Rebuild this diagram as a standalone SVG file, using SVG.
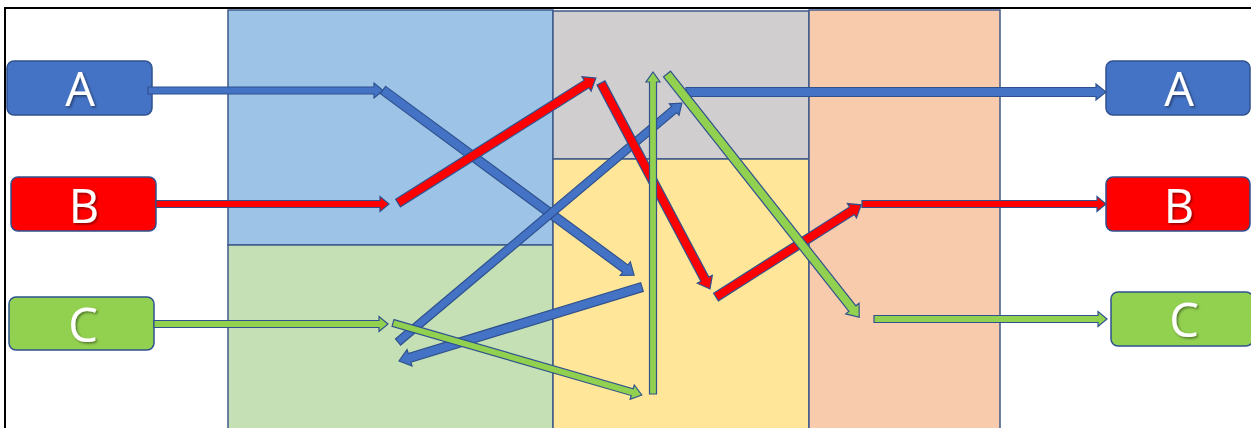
<svg xmlns="http://www.w3.org/2000/svg" width="1251" height="428" viewBox="0 0 1251 428">
<defs>
<style>
.zone{stroke:#3F5A8A;stroke-width:1.5}
.node{stroke:#2F528F;stroke-width:1.5}
.lbl{font-family:"Open Sans","Liberation Sans",sans-serif;font-size:47px;fill:#fff;text-anchor:middle;filter:url(#sh)}
.arr{stroke:#2F528F;stroke-width:1.2;stroke-linejoin:miter}
.b{fill:#4472C4}.r{fill:#FF0000}.g{fill:#92D050}
</style>
<filter id="sh" x="-20%" y="-20%" width="140%" height="140%">
<feDropShadow dx="1.5" dy="1.5" stdDeviation="0.8" flood-color="#000" flood-opacity="0.45"/>
</filter>
</defs>
<rect x="0" y="0" width="1251" height="428" fill="#fff"/>
<rect x="5" y="8" width="1260" height="440" fill="none" stroke="#000" stroke-width="2"/>
<g id="zones">
<rect class="zone" x="228" y="10" width="325" height="235" fill="#9DC3E6"/>
<rect class="zone" x="228" y="245" width="325" height="190" fill="#C5E0B4"/>
<rect class="zone" x="553" y="11" width="256" height="148" fill="#D0CECE"/>
<rect class="zone" x="553" y="159" width="256" height="276" fill="#FFE699"/>
<rect class="zone" x="809" y="10" width="191" height="425" fill="#F8CBAD" stroke="#6E6EA8"/>
</g>
<g id="node-A-in"><rect class="node b" x="7" y="61" width="145" height="54" rx="7"/><text class="lbl" x="80" y="106">A</text></g>
<g id="node-B-in"><rect class="node r" x="11" y="177" width="145" height="54" rx="7"/><text class="lbl" x="84" y="223">B</text></g>
<g id="node-C-in"><rect class="node g" x="9" y="297" width="145" height="53" rx="7"/><text class="lbl" x="83" y="342">C</text></g>
<g id="node-A-out"><rect class="node b" x="1106" y="61" width="144" height="54" rx="7"/><text class="lbl" x="1179" y="106">A</text></g>
<g id="node-B-out"><rect class="node r" x="1106" y="177" width="144" height="54" rx="7"/><text class="lbl" x="1179" y="223">B</text></g>
<g id="node-C-out"><rect class="node g" x="1111" y="292" width="142" height="54" rx="7"/><text class="lbl" x="1184" y="337">C</text></g>
<g id="connectors">
<!-- blue -->
<polygon class="arr b" transform="translate(148,90.5)" points="0,-3.5 226,-3.5 226,-7.5 235,0 226,7.5 226,3.5 0,3.5"/>
<polygon class="arr b" transform="translate(383,90) rotate(36.4)" points="0,-4.5 301,-4.5 301,-8.5 312,0 301,8.5 301,4.5 0,4.5"/>
<polygon class="arr b" transform="translate(642,287) rotate(163.06)" points="0,-4.5 243,-4.5 243,-8.5 254,0 243,8.5 243,4.5 0,4.5"/>
<polygon class="arr b" transform="translate(398,342) rotate(-40.08)" points="0,-4 361,-4 361,-7.5 371,0 361,7.5 361,4 0,4"/>
<polygon class="arr b" transform="translate(686,92)" points="0,-4.5 410,-4.5 410,-8 420,0 410,8 410,4.5 0,4.5"/>
<!-- red -->
<polygon class="arr r" transform="translate(156,204)" points="0,-3.5 224,-3.5 224,-7.5 233,0 224,7.5 224,3.5 0,3.5"/>
<polygon class="arr r" transform="translate(398,203) rotate(-32.27)" points="0,-4.5 223,-4.5 223,-8.5 234,0 223,8.5 223,4.5 0,4.5"/>
<polygon class="arr r" transform="translate(601,83) rotate(62.11)" points="0,-4.5 222,-4.5 222,-8.5 233,0 222,8.5 222,4.5 0,4.5"/>
<polygon class="arr r" transform="translate(716,297) rotate(-32.4)" points="0,-4.5 161,-4.5 161,-8.5 172,0 161,8.5 161,4.5 0,4.5"/>
<polygon class="arr r" transform="translate(862,204)" points="0,-3.5 235,-3.5 235,-7.5 244,0 235,7.5 235,3.5 0,3.5"/>
<!-- green -->
<polygon class="arr g" transform="translate(154,324)" points="0,-3.5 225,-3.5 225,-7.5 234,0 225,7.5 225,3.5 0,3.5"/>
<polygon class="arr g" transform="translate(393,323) rotate(16.13)" points="0,-3.5 249,-3.5 249,-7.5 259,0 249,7.5 249,3.5 0,3.5"/>
<polygon class="arr g" transform="translate(653,394) rotate(-90)" points="0,-3.5 312,-3.5 312,-7 322,0 312,7 312,3.5 0,3.5"/>
<polygon class="arr g" transform="translate(667,74) rotate(51.68)" points="0,-4.5 299,-4.5 299,-8.5 310,0 299,8.5 299,4.5 0,4.5"/>
<polygon class="arr g" transform="translate(874,319)" points="0,-3.5 224,-3.5 224,-7.5 233,0 224,7.5 224,3.5 0,3.5"/>
</g>
</svg>
